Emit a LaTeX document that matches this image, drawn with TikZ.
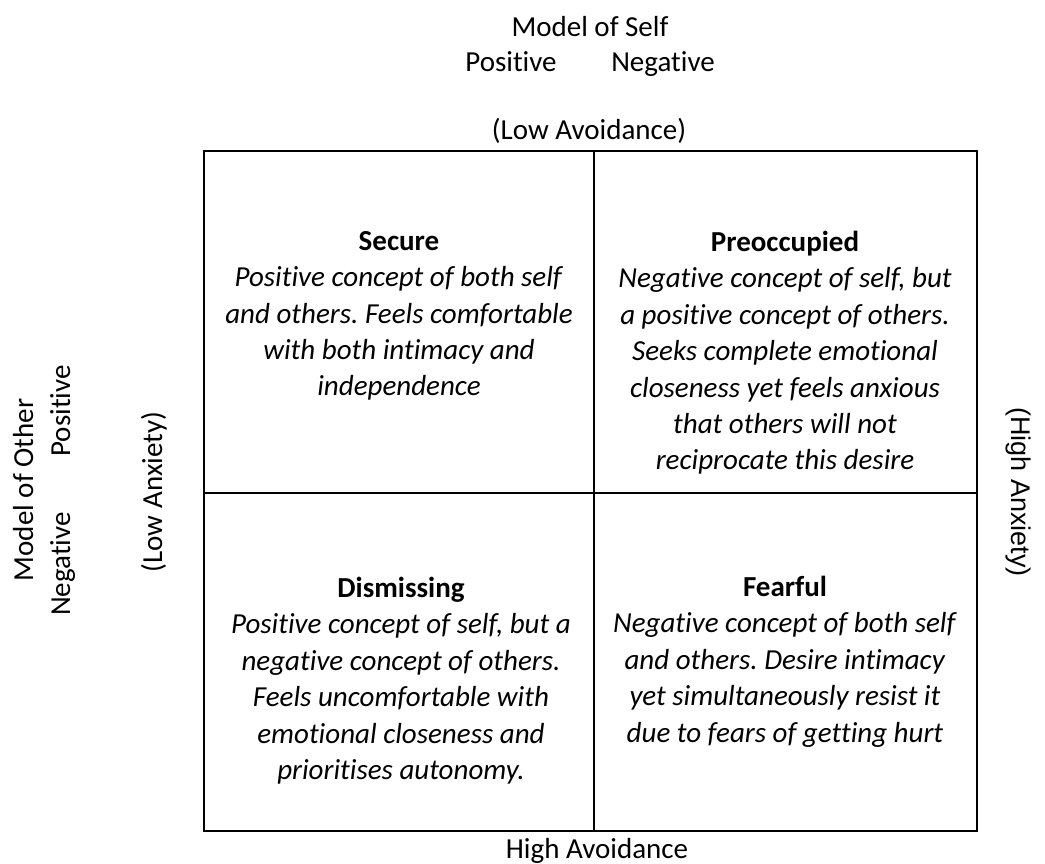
\documentclass[tikz,border=0pt]{standalone}
\usepackage{fontspec}
\setmainfont{Carlito}[Ligatures=NoCommon]
\newfontfamily\arialfont{Liberation Sans}
\frenchspacing

\begin{document}
\begin{tikzpicture}[x=1pt, y=-1pt,
    lbl/.style={inner sep=0pt, anchor=base, font=\fontsize{29}{35}\selectfont},
    quad/.style={anchor=north, inner sep=0pt, align=center, font=\fontsize{29}{36.4}\selectfont},
    grid/.style={line width=2.1pt}]
    \useasboundingbox (0,0) rectangle (1045,864);

    % model of self (top)
    \node (self) at (590, 37) [lbl] {Model of Self};
    \node (selfpos) at (511, 72) [lbl] {Positive};
    \node (selfneg) at (663, 72) [lbl] {Negative};
    \node (lowavoid) at (589, 140) [lbl] {(Low Avoidance)};
    \node (highavoid) at (597, 858) [lbl] {High Avoidance};

    % model of other (left)
    \node (other) at (33, 490) [lbl, rotate=90] {Model of Other};
    \node (otherpos) at (70, 411) [lbl, rotate=90] {Positive};
    \node (otherneg) at (70, 564) [lbl, rotate=90] {Negative};
    \node (lowanx) at (162, 492) [lbl, rotate=90] {(Low Anxiety)};
    \node (highanx) at (1018, 492) [inner sep=0pt, rotate=-90, font=\arialfont\fontsize{27}{32}\selectfont] {(High Anxiety)};

    % the grid
    \draw [grid] (204, 151) rectangle (977, 831);
    \draw [grid] (594, 151) -- (594, 831);
    \draw [grid] (204, 493) -- (977, 493);

    % quadrants
    \node (secure) at (399, 231) [quad] {\textbf{Secure}\\
        \textit{Positive concept of both self}\\
        \textit{and others. Feels comfortable}\\
        \textit{with both intimacy and}\\
        \textit{independence}};
    \node (preocc) at (785, 231) [quad] {\textbf{Preoccupied}\\
        \textit{Negative concept of self, but}\\
        \textit{a positive concept of others.}\\
        \textit{Seeks complete emotional}\\
        \textit{closeness yet feels anxious}\\
        \textit{that others will not}\\
        \textit{reciprocate this desire}};
    \node (dismiss) at (401, 577) [quad] {\textbf{Dismissing}\\
        \textit{Positive concept of self, but a}\\
        \textit{negative concept of others.}\\
        \textit{Feels uncomfortable with}\\
        \textit{emotional closeness and}\\
        \textit{prioritises autonomy.}};
    \node (fearful) at (785, 576) [quad] {\textbf{Fearful}\\
        \textit{Negative concept of both self}\\
        \textit{and others. Desire intimacy}\\
        \textit{yet simultaneously resist it}\\
        \textit{due to fears of getting hurt}};
\end{tikzpicture}
\end{document}
